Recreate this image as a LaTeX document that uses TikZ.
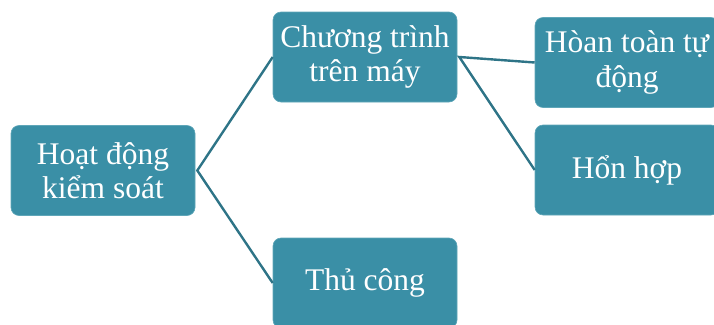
\documentclass[tikz,border=0pt]{standalone}
\usepackage{fontspec}
\setmainfont{Liberation Serif}
\definecolor{boxfill}{HTML}{3A8FA6}
\definecolor{boxedge}{HTML}{5FA6B8}
\definecolor{linkc}{HTML}{2E7487}
\begin{document}
\begin{tikzpicture}[x=1pt,y=-1pt,
  box/.style={draw=boxedge,line width=0.6pt,fill=boxfill,rounded corners=8pt,minimum width=184pt,minimum height=90pt,
    text=white,align=center,inner sep=1pt,font=\fontsize{31.5pt}{34.5pt}\selectfont},
  link/.style={draw=linkc,line width=2.4pt}]
\useasboundingbox (0,0) rectangle (714,324);
\clip (0,0) rectangle (714,324);
\node[box] (a) at (103,170.5) {Hoạt động\\kiểm soát};
\node[box] (b) at (365,57) {Chương trình\\trên máy};
\node[box] (c) at (365,283) {Thủ công};
\node[box] (d) at (627,62.5) {Hòan toàn tự\\động};
\node[box] (e) at (627,170) {Hổn hợp};
\draw[link] (b.west) -- ([xshift=2pt]a.east) -- (c.west);
\draw[link] (d.west) -- ([xshift=2pt]b.east) -- (e.west);
\end{tikzpicture}
\end{document}
